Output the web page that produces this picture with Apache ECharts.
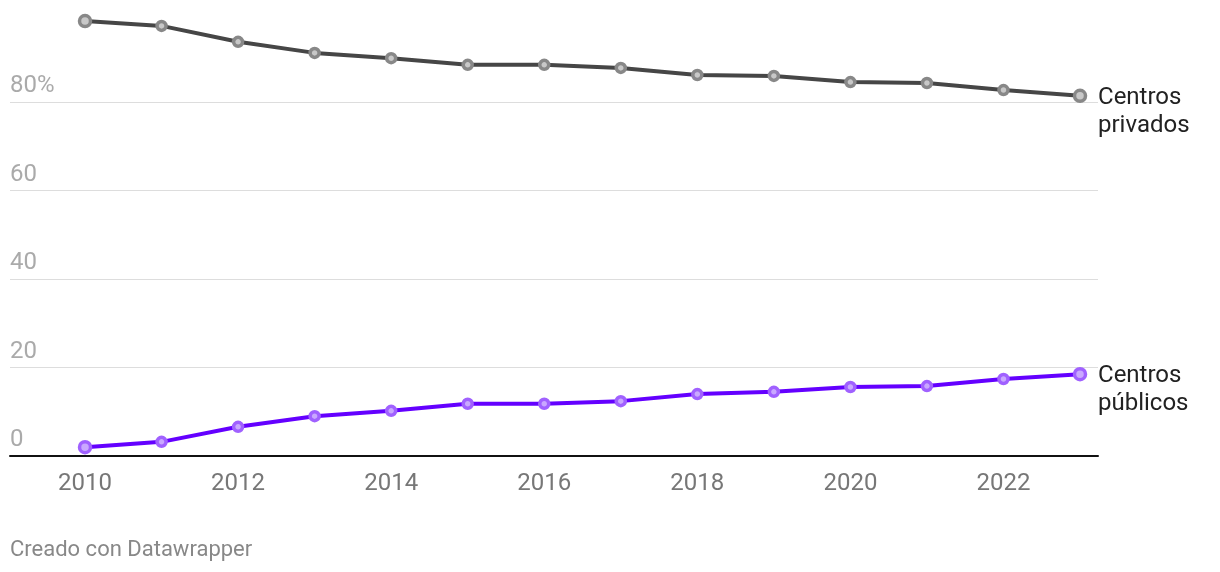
<!DOCTYPE html>
<html><head><meta charset="utf-8">
<script src="https://cdn.jsdelivr.net/npm/echarts@6/dist/echarts.min.js"></script>
<style>html,body{margin:0;padding:0;background:#fff}#c{width:1220px;height:572px}</style>
</head><body><div id="c"></div>
<script>
const years = [2010,2011,2012,2013,2014,2015,2016,2017,2018,2019,2020,2021,2022,2023];
const privados = [98.3,97.2,93.6,91.1,89.9,88.4,88.4,87.7,86.1,85.9,84.5,84.3,82.7,81.4];
const publicos = [2.0,3.2,6.6,9.0,10.2,11.8,11.8,12.4,14.0,14.5,15.6,15.8,17.4,18.5];
const xTicks = [2010,2012,2014,2016,2018,2020,2022];
const yTicks = [0,20,40,60,80];
const names = ['Centros\nprivados','Centros\npúblicos'];

const chart = echarts.init(document.getElementById('c'));
const last = years.length - 1;
function sz(v, p){ return (p.dataIndex === 0 || p.dataIndex === last) ? 11 : 9; }
function mk(vals){ return vals.map((v,i)=>[years[i], v]); }
chart.setOption({
  animation:false,
  textStyle:{fontFamily:'Roboto'},
  title:{text:'Creado con Datawrapper', left:5, top:534,
    textStyle:{fontFamily:'Roboto', fontSize:22, fontWeight:'normal', color:'#888'}},
  grid:{left:10, right:122, top:13.5, height:442.5},
  xAxis:{type:'value', min:2009.02, max:2023.235,
    axisLine:{show:true, lineStyle:{color:'#111', width:2}},
    axisTick:{show:false}, splitLine:{show:false},
    axisLabel:{customValues:xTicks, fontSize:24, color:'#777', margin:16, formatter:v=>String(v)}},
  yAxis:{type:'value', min:0, max:100, interval:20,
    axisLine:{show:false}, axisTick:{show:false},
    splitLine:{lineStyle:{color:['#ffffff','#dddddd','#dddddd','#dddddd','#dddddd','rgba(0,0,0,0)'], width:1}},
    axisLabel:{inside:true, margin:0, fontSize:24, color:'#aaa', verticalAlign:'bottom', padding:[0,0,4,0],
      formatter:v=> yTicks.indexOf(v) < 0 ? '' : (v===80 ? '80%' : String(v))}},
  series:[
    {type:'line', data:mk(privados), symbol:'circle', symbolSize:sz,
      lineStyle:{color:'#464646', width:4}, itemStyle:{color:'#c8c8c8', borderColor:'#888', borderWidth:3.5},
      z:3,
      endLabel:{show:true, formatter:()=>names[0], fontSize:24, color:'#222', lineHeight:28,
        align:'left', verticalAlign:'top', offset:[13,-12], distance:5}},
    {type:'line', data:mk(publicos), symbol:'circle', symbolSize:sz,
      lineStyle:{color:'#6400ff', width:4}, itemStyle:{color:'#c9a8ff', borderColor:'#a061ff', borderWidth:3.5},
      z:3,
      endLabel:{show:true, formatter:()=>names[1], fontSize:24, color:'#222', lineHeight:28,
        align:'left', verticalAlign:'top', offset:[13,-12], distance:5}}
  ]
});
</script></body></html>
